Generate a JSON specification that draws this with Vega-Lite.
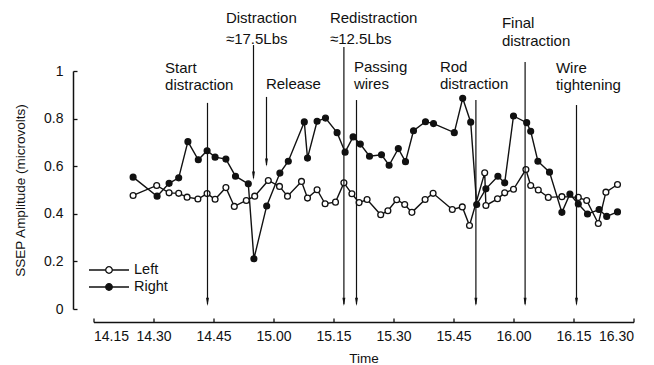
{
  "$schema": "https://vega.github.io/schema/vega-lite/v6.json",
  "autosize": "none",
  "width": 540,
  "height": 238,
  "padding": {"left": 93.5, "top": 71, "right": 20.5, "bottom": 56},
  "background": "white",
  "config": {
    "view": {"stroke": null},
    "font": "Liberation Sans",
    "axis": {"grid": false, "domainColor": "#111", "tickColor": "#111", "labelColor": "#111", "titleColor": "#111", "domainWidth": 1.5, "tickWidth": 1.3, "labelFont": "Liberation Sans", "titleFont": "Liberation Sans", "titleFontWeight": "normal"},
    "legend": {"labelFont": "Liberation Sans"}
  },
  "datasets": {
    "amp": [
      {"series": "Left", "time": 24.9, "amp": 0.477},
      {"series": "Left", "time": 30.8, "amp": 0.519},
      {"series": "Left", "time": 33.9, "amp": 0.488},
      {"series": "Left", "time": 36.3, "amp": 0.486},
      {"series": "Left", "time": 38.4, "amp": 0.470},
      {"series": "Left", "time": 41.1, "amp": 0.462},
      {"series": "Left", "time": 43.4, "amp": 0.485},
      {"series": "Left", "time": 45.4, "amp": 0.461},
      {"series": "Left", "time": 48.1, "amp": 0.510},
      {"series": "Left", "time": 50.2, "amp": 0.431},
      {"series": "Left", "time": 53.2, "amp": 0.456},
      {"series": "Left", "time": 55.3, "amp": 0.474},
      {"series": "Left", "time": 58.7, "amp": 0.540},
      {"series": "Left", "time": 61.5, "amp": 0.515},
      {"series": "Left", "time": 63.5, "amp": 0.474},
      {"series": "Left", "time": 67.0, "amp": 0.536},
      {"series": "Left", "time": 68.5, "amp": 0.466},
      {"series": "Left", "time": 70.9, "amp": 0.501},
      {"series": "Left", "time": 72.9, "amp": 0.442},
      {"series": "Left", "time": 75.5, "amp": 0.449},
      {"series": "Left", "time": 77.6, "amp": 0.530},
      {"series": "Left", "time": 79.6, "amp": 0.484},
      {"series": "Left", "time": 81.4, "amp": 0.447},
      {"series": "Left", "time": 83.4, "amp": 0.460},
      {"series": "Left", "time": 86.8, "amp": 0.396},
      {"series": "Left", "time": 88.6, "amp": 0.413},
      {"series": "Left", "time": 90.8, "amp": 0.459},
      {"series": "Left", "time": 92.8, "amp": 0.439},
      {"series": "Left", "time": 94.6, "amp": 0.406},
      {"series": "Left", "time": 97.9, "amp": 0.460},
      {"series": "Left", "time": 99.9, "amp": 0.486},
      {"series": "Left", "time": 104.7, "amp": 0.418},
      {"series": "Left", "time": 107.2, "amp": 0.429},
      {"series": "Left", "time": 109.0, "amp": 0.351},
      {"series": "Left", "time": 112.8, "amp": 0.572},
      {"series": "Left", "time": 113.1, "amp": 0.435},
      {"series": "Left", "time": 116.0, "amp": 0.463},
      {"series": "Left", "time": 117.8, "amp": 0.488},
      {"series": "Left", "time": 120.0, "amp": 0.503},
      {"series": "Left", "time": 123.1, "amp": 0.586},
      {"series": "Left", "time": 124.3, "amp": 0.519},
      {"series": "Left", "time": 126.2, "amp": 0.500},
      {"series": "Left", "time": 128.7, "amp": 0.469},
      {"series": "Left", "time": 132.1, "amp": 0.472},
      {"series": "Left", "time": 136.2, "amp": 0.469},
      {"series": "Left", "time": 138.3, "amp": 0.456},
      {"series": "Left", "time": 141.2, "amp": 0.359},
      {"series": "Left", "time": 143.1, "amp": 0.491},
      {"series": "Left", "time": 146.0, "amp": 0.523},
      {"series": "Right", "time": 24.9, "amp": 0.554},
      {"series": "Right", "time": 30.9, "amp": 0.474},
      {"series": "Right", "time": 33.9, "amp": 0.528},
      {"series": "Right", "time": 36.3, "amp": 0.551},
      {"series": "Right", "time": 38.6, "amp": 0.703},
      {"series": "Right", "time": 41.2, "amp": 0.627},
      {"series": "Right", "time": 43.4, "amp": 0.665},
      {"series": "Right", "time": 45.4, "amp": 0.638},
      {"series": "Right", "time": 48.1, "amp": 0.630},
      {"series": "Right", "time": 50.5, "amp": 0.558},
      {"series": "Right", "time": 53.7, "amp": 0.526},
      {"series": "Right", "time": 55.1, "amp": 0.211},
      {"series": "Right", "time": 58.3, "amp": 0.433},
      {"series": "Right", "time": 61.6, "amp": 0.571},
      {"series": "Right", "time": 63.7, "amp": 0.621},
      {"series": "Right", "time": 67.7, "amp": 0.786},
      {"series": "Right", "time": 68.5, "amp": 0.634},
      {"series": "Right", "time": 70.9, "amp": 0.789},
      {"series": "Right", "time": 73.0, "amp": 0.802},
      {"series": "Right", "time": 75.9, "amp": 0.741},
      {"series": "Right", "time": 77.9, "amp": 0.659},
      {"series": "Right", "time": 79.9, "amp": 0.723},
      {"series": "Right", "time": 81.7, "amp": 0.693},
      {"series": "Right", "time": 84.0, "amp": 0.642},
      {"series": "Right", "time": 87.0, "amp": 0.648},
      {"series": "Right", "time": 88.9, "amp": 0.604},
      {"series": "Right", "time": 91.2, "amp": 0.674},
      {"series": "Right", "time": 93.0, "amp": 0.619},
      {"series": "Right", "time": 95.0, "amp": 0.749},
      {"series": "Right", "time": 98.0, "amp": 0.787},
      {"series": "Right", "time": 100.0, "amp": 0.779},
      {"series": "Right", "time": 105.2, "amp": 0.741},
      {"series": "Right", "time": 107.3, "amp": 0.885},
      {"series": "Right", "time": 109.3, "amp": 0.785},
      {"series": "Right", "time": 110.8, "amp": 0.439},
      {"series": "Right", "time": 113.1, "amp": 0.505},
      {"series": "Right", "time": 116.1, "amp": 0.558},
      {"series": "Right", "time": 117.8, "amp": 0.530},
      {"series": "Right", "time": 120.0, "amp": 0.811},
      {"series": "Right", "time": 123.3, "amp": 0.783},
      {"series": "Right", "time": 124.3, "amp": 0.747},
      {"series": "Right", "time": 126.1, "amp": 0.621},
      {"series": "Right", "time": 129.0, "amp": 0.575},
      {"series": "Right", "time": 132.1, "amp": 0.406},
      {"series": "Right", "time": 134.1, "amp": 0.483},
      {"series": "Right", "time": 136.2, "amp": 0.441},
      {"series": "Right", "time": 138.5, "amp": 0.399},
      {"series": "Right", "time": 141.4, "amp": 0.418},
      {"series": "Right", "time": 143.3, "amp": 0.389},
      {"series": "Right", "time": 146.0, "amp": 0.408}
    ],
    "events": [
      {"event": "Start distraction", "time": 43.5, "top": 0.866, "bottom": 0.02, "head": 0.03},
      {"event": "Distraction 17.5", "time": 55.0, "top": 1.109, "bottom": 0.55, "head": 0.56},
      {"event": "Release", "time": 58.25, "top": 0.891, "bottom": 0.605, "head": 0.615},
      {"event": "Redistraction", "time": 77.6, "top": 1.101, "bottom": 0.02, "head": 0.03},
      {"event": "Passing wires", "time": 80.75, "top": 0.878, "bottom": 0.02, "head": 0.03},
      {"event": "Rod distraction", "time": 110.6, "top": 0.878, "bottom": 0.02, "head": 0.03},
      {"event": "Final distraction", "time": 122.9, "top": 1.038, "bottom": 0.02, "head": 0.03},
      {"event": "Wire tightening", "time": 135.75, "top": 0.857, "bottom": 0.02, "head": 0.03}
    ],
    "labels": [
      {"labelTime": 32.9, "labelAmp": 1.0126, "text": "Start"},
      {"labelTime": 32.9, "labelAmp": 0.941, "text": "distraction"},
      {"labelTime": 48.1, "labelAmp": 1.2227, "text": "Distraction"},
      {"labelTime": 48.1, "labelAmp": 1.1345, "text": "≈17.5Lbs"},
      {"labelTime": 58.1, "labelAmp": 0.9454, "text": "Release"},
      {"labelTime": 74.1, "labelAmp": 1.2227, "text": "Redistraction"},
      {"labelTime": 74.1, "labelAmp": 1.1345, "text": "≈12.5Lbs"},
      {"labelTime": 80.1, "labelAmp": 1.0168, "text": "Passing"},
      {"labelTime": 80.1, "labelAmp": 0.9454, "text": "wires"},
      {"labelTime": 101.6, "labelAmp": 1.0168, "text": "Rod"},
      {"labelTime": 101.6, "labelAmp": 0.9454, "text": "distraction"},
      {"labelTime": 117.1, "labelAmp": 1.2017, "text": "Final"},
      {"labelTime": 117.1, "labelAmp": 1.1261, "text": "distraction"},
      {"labelTime": 130.6, "labelAmp": 1.0126, "text": "Wire"},
      {"labelTime": 130.6, "labelAmp": 0.941, "text": "tightening"}
    ]
  },
  "layer": [
    {
      "data": {"name": "amp"},
      "mark": {"type": "line", "color": "#111", "strokeWidth": 1.4},
      "encoding": {
        "x": {"field": "time", "type": "quantitative", "scale": {"domain": [15, 150], "nice": false, "zero": false},
          "axis": {"title": "Time", "values": [15, 30, 45, 60, 75, 90, 105, 120, 135, 150], "offset": 13, "tickSize": -4, "labelPadding": 11, "labelFontSize": 14, "titleFontSize": 13.5, "titlePadding": 8,
            "labelExpr": "(floor(datum.value/60)+14) + '.' + (datum.value % 60 < 10 ? '0' : '') + (datum.value % 60)"}},
        "y": {"field": "amp", "type": "quantitative", "scale": {"domain": [0, 1], "nice": false},
          "axis": {"title": "SSEP Amplitude (microvolts)", "values": [0, 0.2, 0.4, 0.6, 0.8, 1], "format": ".1~f", "offset": 20.5, "tickSize": -4, "labelPadding": 14, "labelFontSize": 14, "titleFontSize": 13.5, "titlePadding": 16}},
        "detail": {"field": "series", "type": "nominal"}
      }
    },
    {
      "data": {"name": "amp"},
      "mark": {"type": "point", "filled": false, "stroke": "#111", "strokeWidth": 1.3, "size": 34, "opacity": 1},
      "encoding": {
        "x": {"field": "time", "type": "quantitative"},
        "y": {"field": "amp", "type": "quantitative"},
        "fill": {"field": "series", "type": "nominal", "scale": {"domain": ["Left", "Right"], "range": ["white", "#111"]},
          "legend": {"title": null, "orient": "none", "legendX": 6.5, "legendY": 190, "symbolType": "M-2.5,0L-0.41,0M0.41,0L2.5,0M0.41,0A0.41,0.41,0,1,1,-0.41,0A0.41,0.41,0,1,1,0.41,0", "symbolSize": 256, "symbolStrokeColor": "#111", "symbolStrokeWidth": 1.3, "labelFontSize": 14.5, "labelColor": "#111", "labelOffset": 16, "rowPadding": 1, "symbolOpacity": 1}}
      }
    },
    {
      "data": {"name": "events"},
      "mark": {"type": "rule", "color": "#111", "strokeWidth": 1.2, "clip": false},
      "encoding": {
        "x": {"field": "time", "type": "quantitative"},
        "y": {"field": "top", "type": "quantitative"},
        "y2": {"field": "bottom"}
      }
    },
    {
      "data": {"name": "events"},
      "mark": {"type": "point", "shape": "M-0.35,-1L0.35,-1L0,1Z", "filled": true, "color": "#111", "size": 70, "opacity": 1, "clip": false},
      "encoding": {
        "x": {"field": "time", "type": "quantitative"},
        "y": {"field": "head", "type": "quantitative"}
      }
    },
    {
      "data": {"name": "labels"},
      "mark": {"type": "text", "align": "left", "baseline": "middle", "fontSize": 15, "color": "#111", "clip": false},
      "encoding": {
        "x": {"field": "labelTime", "type": "quantitative"},
        "y": {"field": "labelAmp", "type": "quantitative"},
        "text": {"field": "text"}
      }
    }
  ]
}
